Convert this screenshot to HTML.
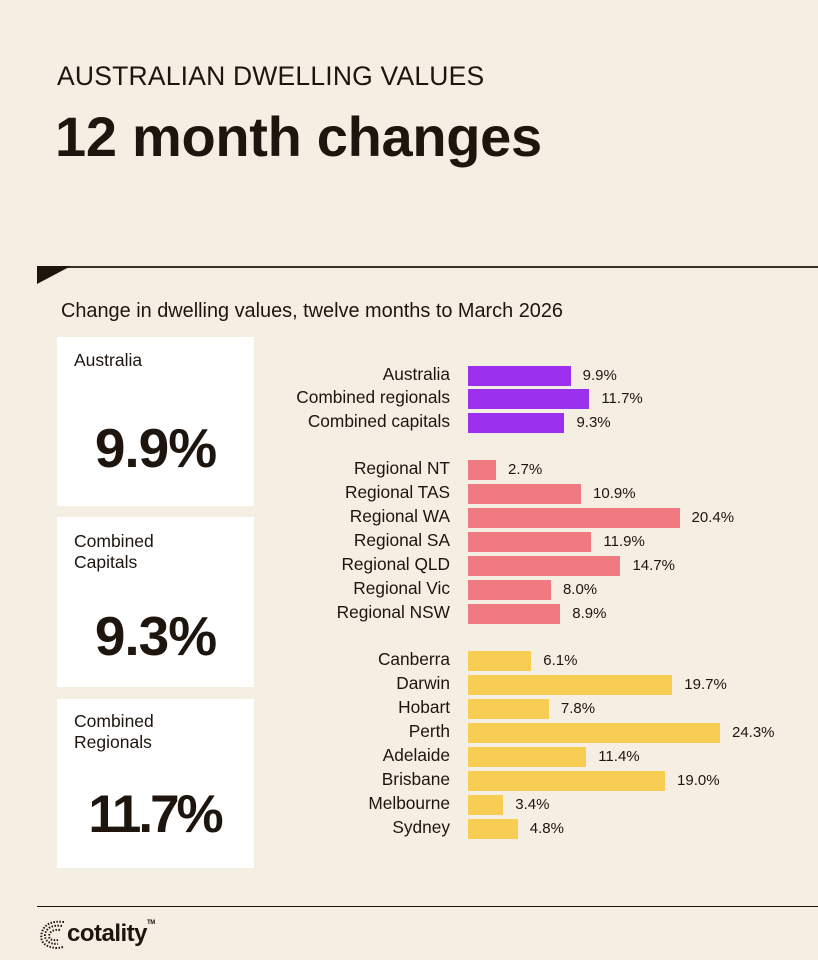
<!DOCTYPE html>
<html><head><meta charset="utf-8"><style>
body{margin:0;width:818px;height:960px;background:#f5eee3;font-family:"Liberation Sans",sans-serif;color:#1e160e;position:relative;overflow:hidden}
.a{position:absolute}
.card{position:absolute;left:57px;width:197px;background:#fff}
.card .t{position:absolute;left:17px;font-size:17.5px;line-height:21px}
.card .v{position:absolute;left:0;width:100%;text-align:center;font-size:55px;font-weight:bold;letter-spacing:-1px}
.lbl{position:absolute;right:368px;font-size:17.3px;text-align:right;white-space:nowrap}
.bar{position:absolute;left:468px;height:20px}
.val{position:absolute;font-size:15px}
</style></head><body>
<div class="a" style="left:57px;top:61px;font-size:26.5px;letter-spacing:0.2px">AUSTRALIAN DWELLING VALUES</div>
<div class="a" style="left:55px;top:104px;font-size:56px;font-weight:bold;letter-spacing:-0.3px">12 month changes</div>
<div class="a" style="left:37px;top:266px;width:781px;height:2px;background:#3b3025"></div>
<svg class="a" style="left:37px;top:266px" width="36" height="20"><polygon points="0,0 34,0 0,18" fill="#1e160e"/></svg>
<div class="a" style="left:61px;top:300px;font-size:19.9px">Change in dwelling values, twelve months to March 2026</div>
<div class="card" style="top:337px;height:169px"><div class="t" style="top:13px">Australia</div><div class="v" style="top:79px">9.9%</div></div>
<div class="card" style="top:517px;height:170px"><div class="t" style="top:14px">Combined<br>Capitals</div><div class="v" style="top:87px">9.3%</div></div>
<div class="card" style="top:699px;height:169px"><div class="t" style="top:12px">Combined<br>Regionals</div><div class="v" style="top:85px;font-size:53px;letter-spacing:-3px;left:-1px">11.7%</div></div>
<div id="bars"></div>
<div class="a" style="left:37px;top:906px;width:781px;height:1px;background:#1e160e"></div>
<svg class="a" style="left:36px;top:918px" width="32" height="34"><g fill="none" stroke="#1e160e" stroke-width="2" stroke-dasharray="1.5 1.5"><path d="M28 4 Q10 2 6 14 Q2 28 20 30 Q26 30 28 28"/><path d="M26 8 Q12 6 9 16 Q8 26 22 26"/><path d="M24 12 Q14 11 13 18 Q13 23 22 22"/></g></svg>
<div class="a" style="left:67px;top:920px;font-size:24px;font-weight:bold;letter-spacing:-0.5px">cotality<span style="font-size:6px;vertical-align:top">TM</span></div>
<script>
var d=[["Australia",9.9,376,"#9b30ee"],["Combined regionals",11.7,399,"#9b30ee"],["Combined capitals",9.3,423,"#9b30ee"],
["Regional NT",2.7,470,"#f07a82"],["Regional TAS",10.9,494,"#f07a82"],["Regional WA",20.4,518,"#f07a82"],["Regional SA",11.9,542,"#f07a82"],["Regional QLD",14.7,566,"#f07a82"],["Regional Vic",8.0,590,"#f07a82"],["Regional NSW",8.9,614,"#f07a82"],
["Canberra",6.1,661,"#f8cd54"],["Darwin",19.7,685,"#f8cd54"],["Hobart",7.8,709,"#f8cd54"],["Perth",24.3,733,"#f8cd54"],["Adelaide",11.4,757,"#f8cd54"],["Brisbane",19.0,781,"#f8cd54"],["Melbourne",3.4,805,"#f8cd54"],["Sydney",4.8,829,"#f8cd54"]];
var h="";d.forEach(function(r){var w=r[1]*10.37;h+='<div class="lbl" style="top:'+(r[2]-12)+'px">'+r[0]+'</div><div class="bar" style="top:'+(r[2]-10)+'px;width:'+w+'px;background:'+r[3]+'"></div><div class="val" style="top:'+(r[2]-9)+'px;left:'+(468+w+12)+'px">'+r[1].toFixed(1)+'%</div>';});
document.getElementById("bars").innerHTML=h;
</script>
</body></html>
